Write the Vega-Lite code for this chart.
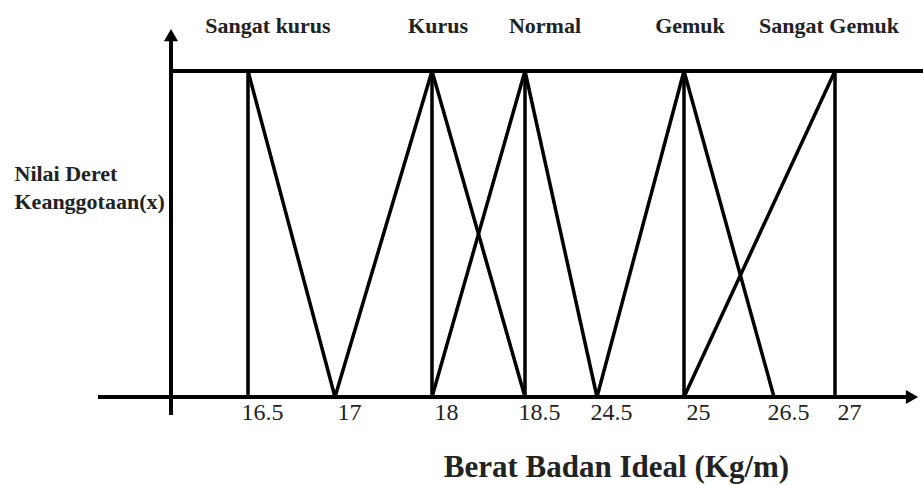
{
  "$schema": "https://vega.github.io/schema/vega-lite/v6.json",
  "width": 923,
  "height": 397,
  "autosize": {"type": "none"},
  "padding": {"left": 0, "top": 0, "right": 0, "bottom": 88},
  "background": "white",
  "config": {"view": {"stroke": null}},
  "datasets": {
    "garis": [
      {"fungsi": "Sangat kurus", "x_awal": 16.5, "mu_awal": 0, "x_akhir": 16.5, "mu_akhir": 1},
      {"fungsi": "Sangat kurus", "x_awal": 16.5, "mu_awal": 1, "x_akhir": 17, "mu_akhir": 0},
      {"fungsi": "Kurus", "x_awal": 17, "mu_awal": 0, "x_akhir": 18, "mu_akhir": 1},
      {"fungsi": "Kurus", "x_awal": 18, "mu_awal": 0, "x_akhir": 18, "mu_akhir": 1},
      {"fungsi": "Kurus", "x_awal": 18, "mu_awal": 1, "x_akhir": 18.5, "mu_akhir": 0},
      {"fungsi": "Normal", "x_awal": 18, "mu_awal": 0, "x_akhir": 18.5, "mu_akhir": 1},
      {"fungsi": "Normal", "x_awal": 18.5, "mu_awal": 0, "x_akhir": 18.5, "mu_akhir": 1},
      {"fungsi": "Normal", "x_awal": 18.5, "mu_awal": 1, "x_akhir": 24.5, "mu_akhir": 0},
      {"fungsi": "Gemuk", "x_awal": 24.5, "mu_awal": 0, "x_akhir": 25, "mu_akhir": 1},
      {"fungsi": "Gemuk", "x_awal": 25, "mu_awal": 0, "x_akhir": 25, "mu_akhir": 1},
      {"fungsi": "Gemuk", "x_awal": 25, "mu_awal": 1, "x_akhir": 26.5, "mu_akhir": 0},
      {"fungsi": "Sangat Gemuk", "x_awal": 25, "mu_awal": 0, "x_akhir": 27, "mu_akhir": 1},
      {"fungsi": "Sangat Gemuk", "x_awal": 27, "mu_awal": 0, "x_akhir": 27, "mu_akhir": 1}
    ],
    "sumbu": [
      {"bagian": "sumbu x", "x_awal": 15, "mu_awal": 0, "x_akhir": 28, "mu_akhir": 0},
      {"bagian": "sumbu y", "x_awal": 16, "mu_awal": -0.055, "x_akhir": 16, "mu_akhir": 1.11},
      {"bagian": "derajat 1", "x_awal": 16, "mu_awal": 1, "x_akhir": 28.15, "mu_akhir": 1}
    ],
    "panah": [
      {"arah": "triangle-right", "x": 28, "mu": 0},
      {"arah": "triangle-up", "x": 16, "mu": 1.11}
    ],
    "kategori": [
      {"fungsi": "Sangat kurus", "puncak": 16.5, "geser": "kanan"},
      {"fungsi": "Kurus", "puncak": 18, "geser": "sedikit"},
      {"fungsi": "Normal", "puncak": 18.5, "geser": "kanan"},
      {"fungsi": "Gemuk", "puncak": 25, "geser": "sedikit"},
      {"fungsi": "Sangat Gemuk", "puncak": 27, "geser": "kiri"}
    ]
  },
  "layer": [
    {
      "data": {"name": "sumbu"},
      "mark": {"type": "rule", "color": "black", "strokeWidth": 4},
      "encoding": {
        "x": {
          "field": "x_awal",
          "type": "quantitative",
          "scale": {
            "domain": [15, 16, 16.5, 17, 18, 18.5, 24.5, 25, 26.5, 27, 28],
            "range": [98, 171, 248, 335, 432, 525, 597, 684, 774, 835, 912],
            "clamp": false,
            "nice": false,
            "zero": false
          },
          "axis": {
            "title": "Berat Badan Ideal (Kg/m)",
            "values": [16.5, 17, 18, 18.5, 24.5, 25, 26.5, 27],
            "format": "",
            "domain": false,
            "ticks": false,
            "grid": false,
            "labelFont": "Liberation Serif",
            "labelFontSize": 24,
            "labelColor": "#222",
            "labelPadding": 3,
            "labelOffset": 14,
            "labelFlush": false,
            "labelOverlap": false,
            "titleFont": "Liberation Serif",
            "titleFontSize": 31,
            "titleFontWeight": "bold",
            "titleColor": "#222",
            "titleX": 616,
            "titleY": 79,
            "titleAlign": "center",
            "titleBaseline": "alphabetic"
          }
        },
        "x2": {"field": "x_akhir"},
        "y": {
          "field": "mu_awal",
          "type": "quantitative",
          "scale": {"domain": [0, 1], "range": [397, 71], "nice": false, "zero": false},
          "axis": {
            "title": ["Nilai Deret", "Keanggotaan(x)"],
            "domain": false,
            "ticks": false,
            "labels": false,
            "grid": false,
            "titleAngle": 0,
            "titleAlign": "left",
            "titleBaseline": "alphabetic",
            "titleX": 14,
            "titleY": 180,
            "titleLineHeight": 28,
            "titleFont": "Liberation Serif",
            "titleFontSize": 22,
            "titleFontWeight": "bold",
            "titleColor": "#222"
          }
        },
        "y2": {"field": "mu_akhir"}
      }
    },
    {
      "data": {"name": "garis"},
      "mark": {"type": "rule", "color": "black", "strokeWidth": 3.5},
      "encoding": {
        "x": {"field": "x_awal", "type": "quantitative"},
        "x2": {"field": "x_akhir"},
        "y": {"field": "mu_awal", "type": "quantitative"},
        "y2": {"field": "mu_akhir"}
      }
    },
    {
      "data": {"name": "panah"},
      "mark": {"type": "point", "filled": true, "color": "black", "size": 200, "opacity": 1},
      "encoding": {
        "x": {"field": "x", "type": "quantitative"},
        "y": {"field": "mu", "type": "quantitative"},
        "shape": {"field": "arah", "type": "nominal", "scale": null}
      }
    },
    {
      "data": {"name": "kategori"},
      "transform": [{"filter": "datum.geser === 'kanan'"}],
      "mark": {"type": "text", "font": "Liberation Serif", "fontSize": 22, "fontWeight": "bold", "color": "#222", "align": "center", "baseline": "alphabetic", "dx": 20},
      "encoding": {
        "x": {"field": "puncak", "type": "quantitative"},
        "y": {"datum": 1.117, "type": "quantitative"},
        "text": {"field": "fungsi"}
      }
    },
    {
      "data": {"name": "kategori"},
      "transform": [{"filter": "datum.geser === 'sedikit'"}],
      "mark": {"type": "text", "font": "Liberation Serif", "fontSize": 22, "fontWeight": "bold", "color": "#222", "align": "center", "baseline": "alphabetic", "dx": 6},
      "encoding": {
        "x": {"field": "puncak", "type": "quantitative"},
        "y": {"datum": 1.117, "type": "quantitative"},
        "text": {"field": "fungsi"}
      }
    },
    {
      "data": {"name": "kategori"},
      "transform": [{"filter": "datum.geser === 'kiri'"}],
      "mark": {"type": "text", "font": "Liberation Serif", "fontSize": 22, "fontWeight": "bold", "color": "#222", "align": "center", "baseline": "alphabetic", "dx": -6},
      "encoding": {
        "x": {"field": "puncak", "type": "quantitative"},
        "y": {"datum": 1.117, "type": "quantitative"},
        "text": {"field": "fungsi"}
      }
    }
  ]
}
